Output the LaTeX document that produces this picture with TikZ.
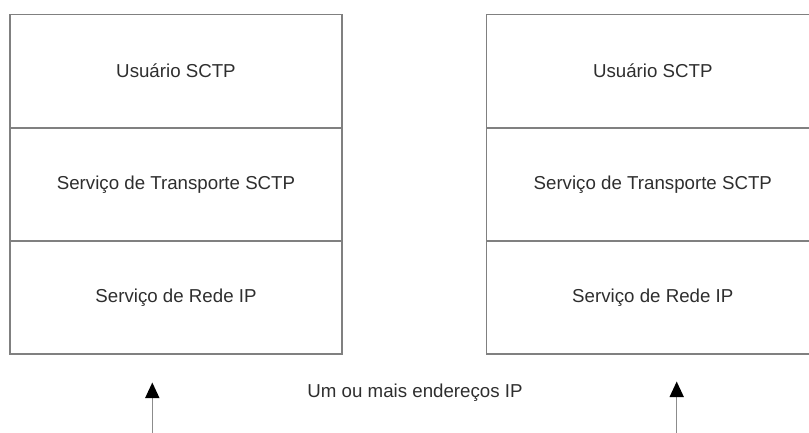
\documentclass[tikz,border=0pt]{standalone}
\usepackage{fontspec}
\setmainfont{Liberation Sans}
\usetikzlibrary{arrows.meta}
\begin{document}
\begin{tikzpicture}[x=1pt,y=-1pt,
  layer/.style={draw=black!50,line width=1.6pt,minimum width=332.3pt,
    minimum height=113.1pt,inner sep=0pt,text=black!82,font=\fontsize{18.7}{22}\selectfont},
  label/.style={text=black!82,font=\fontsize{18.7}{22}\selectfont},
  addrarrow/.style={draw=black!45,line width=1.5pt,
    -{Triangle[width=14pt,length=15.5pt,black]}}]
  \clip (0,0) rectangle (809,432);
  \useasboundingbox (0,0) rectangle (809,432);
  % left endpoint stack
  \node[layer] (lu) at (176,71.2) {Usuário SCTP};
  \node[layer] (lt) at (176,184.3) {Serviço de Transporte SCTP};
  \node[layer] (lr) at (176,297.4) {Serviço de Rede IP};
  % right endpoint stack
  \node[layer] (ru) at (652.8,71.2) {Usuário SCTP};
  \node[layer] (rt) at (652.8,184.3) {Serviço de Transporte SCTP};
  \node[layer] (rr) at (652.8,297.4) {Serviço de Rede IP};
  % addresses
  \node[label] (addr) at (415,392.5) {Um ou mais endereços IP};
  \coordinate (la0) at (152.3,433);
  \coordinate (la1) at (152.3,382.5);
  \coordinate (ra0) at (676.7,433);
  \coordinate (ra1) at (676.7,381.5);
  \draw[addrarrow] (la0) -- (la1);
  \draw[addrarrow] (ra0) -- (ra1);
\end{tikzpicture}
\end{document}
